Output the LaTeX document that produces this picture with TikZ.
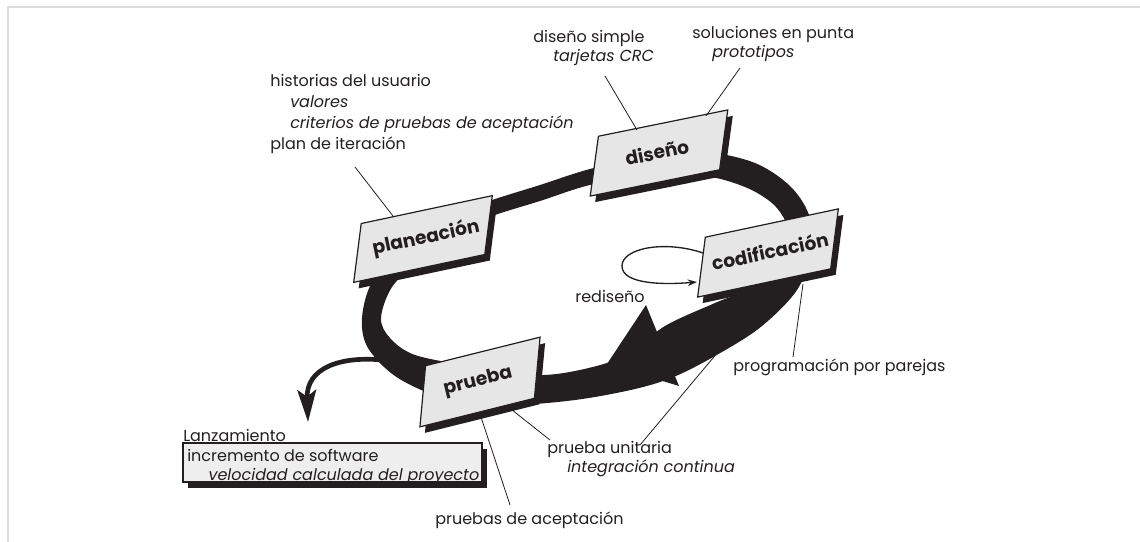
\documentclass[tikz,border=0pt]{standalone}
\usepackage{fontspec}
\setmainfont{Poppins}
\usetikzlibrary{arrows.meta}
\definecolor{ink}{HTML}{231F20}
\definecolor{boxgray}{HTML}{E6E6E6}
\definecolor{relgray}{HTML}{EEEEEE}
\definecolor{framegray}{HTML}{DCDCDC}
\newcommand\slantbox[6]{%
  \fill[ink,shift={(#1+5,#2+6)},rotate=#3,xslant=#6] (-#4,-#5) rectangle (#4,#5);
  \filldraw[boxface,shift={(#1,#2)},rotate=#3,xslant=#6] (-#4,-#5) rectangle (#4,#5);
}
\begin{document}
\begin{tikzpicture}[x=0.75pt,y=-0.75pt,
  boxface/.style={fill=boxgray,draw=ink,line width=0.9pt},
  lbl/.style={font=\fontsize{12}{14.5}\selectfont,text=ink,inner sep=0pt,align=left},
  boxlbl/.style={font=\bfseries\fontsize{14}{16}\selectfont,text=ink,inner sep=0pt},
  leader/.style={draw=ink,line width=0.6pt}]
\useasboundingbox (0,0) rectangle (1140,542);
\draw[framegray,line width=1.5pt] (8,542) -- (8,7) -- (1140,7);

% ring
\fill[ink,even odd rule]
  plot[smooth cycle,tension=0.55] coordinates {(362,318) (372,282) (400,250) (450,215) (492,200) (540,185) (590,169) (650,156) (705,152) (755,163) (790,186) (809,215) (812,250) (797,290) (762,326) (722,352) (676,376) (635,389) (575,400) (510,405) (450,400) (398,378) (368,348)}
  plot[smooth cycle,tension=0.55] coordinates {(381,318) (392,287) (418,262) (460,230) (492,216) (540,201) (590,185) (650,175) (705,176) (745,187) (773,204) (787,226) (786,254) (762,283) (715,303) (665,326) (625,356) (575,371) (530,375) (470,366) (415,355) (390,338)};
\fill[ink] (646,305) -- (607,364) -- (679,386) -- cycle;

% release arrow
\coordinate (relstart) at (382,360);
\coordinate (reltip) at (308,422);
\draw[ink,line width=3.5pt,-{Stealth[length=24pt,width=14pt,inset=5pt]}] (relstart) .. controls (340,356) and (306,368) .. (reltip);

% boxes
\slantbox{423}{239}{12}{67}{28}{0.35}
\slantbox{659}{153}{11.5}{66}{28.5}{0.35}
\slantbox{768}{253}{12}{68}{28.5}{0.35}
\slantbox{480}{382}{14}{59}{29}{0.35}
\node[boxlbl,rotate=12] (plan) at (426,238) {planeación};
\node[boxlbl,rotate=11.5] (dis) at (657,152) {diseño};
\node[boxlbl,rotate=12] (cod) at (770,251) {codificación};
\node[boxlbl,rotate=14] (pru) at (478,382) {prueba};

% rediseno loop
\coordinate (lpstart) at (703,253);
\coordinate (lpend) at (697,282);
\draw[ink,line width=1pt,-{Stealth[length=7pt,width=5pt]}] (lpstart) .. controls (665,240) and (622,248) .. (622,266) .. controls (622,284) and (662,285) .. (lpend);
\node[lbl,anchor=center] (redis) at (610,296) {rediseño};

% labels
\node[lbl,anchor=north west] (dsimple) at (533,30) {diseño simple\\\hspace*{15pt}\textit{tarjetas CRC}};
\node[lbl,anchor=north west] (solu) at (692,26) {soluciones en punta\\\hspace*{15pt}\textit{prototipos}};
\node[lbl,anchor=north west,font=\fontsize{12}{15.8}\selectfont] (hist) at (270,74) {historias del usuario\\\hspace*{15pt}\textit{valores}\\\hspace*{15pt}\textit{criterios de pruebas de aceptación}\\plan de iteración};
\node[lbl,anchor=west] (prog) at (733,367) {programación por parejas};
\node[lbl,anchor=north west] (punit) at (547,441) {prueba unitaria\\\hspace*{15pt}\textit{integración continua}};
\node[lbl,anchor=west] (pacep) at (435,520) {pruebas de aceptación};
\node[lbl,anchor=west] (lanz) at (183,435) {Lanzamiento};

% release box
\fill[ink] (188,449) rectangle (487,488);
\filldraw[fill=relgray,draw=ink,line width=0.9pt] (183,443) rectangle (482,482);
\node[lbl,anchor=north west] (relt) at (187,449) {incremento de software\\\hspace*{16pt}\textit{velocidad calculada del proyecto}};

% leader lines
\coordinate (a1) at (393,216); \coordinate (a2) at (355,167);
\coordinate (b1) at (637,130); \coordinate (b2) at (605,76);
\coordinate (c1) at (706,116); \coordinate (c2) at (740,68);
\coordinate (d1) at (803,284); \coordinate (d2) at (793,357);
\coordinate (e1) at (765,296); \coordinate (e2) at (640,445);
\coordinate (f1) at (507,406); \coordinate (f2) at (550,440);
\coordinate (g1) at (480,414); \coordinate (g2) at (510,505);
\draw[leader] (a1) -- (a2);
\draw[leader] (b1) -- (b2);
\draw[leader] (c1) -- (c2);
\draw[leader] (d1) -- (d2);
\draw[leader] (e1) -- (e2);
\draw[leader] (f1) -- (f2);
\draw[leader] (g1) -- (g2);
\end{tikzpicture}
\end{document}
